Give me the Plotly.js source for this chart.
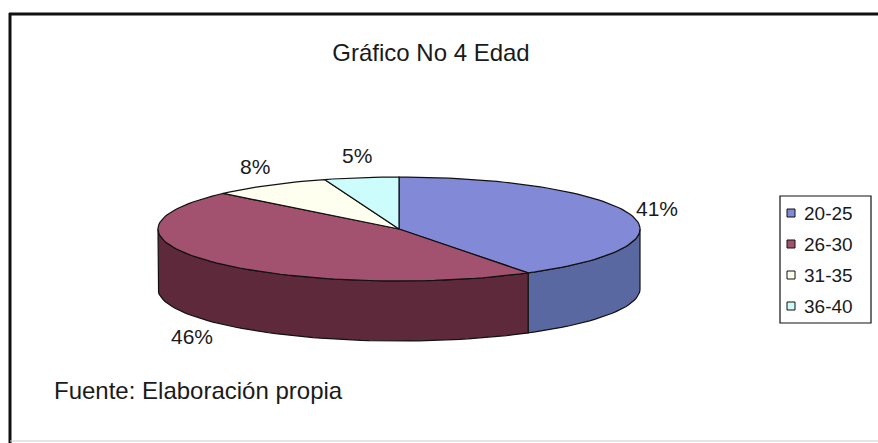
<!DOCTYPE html>
<html>
<head>
<meta charset="utf-8">
<script src="https://cdn.plot.ly/plotly-3.0.1.min.js"></script>
<style>html,body{margin:0;padding:0;background:#fff;}#chart{width:878px;height:443px;}</style>
</head>
<body>
<div id="chart"></div>
<script>
// ---- data ----
const categories = ['20-25', '26-30', '31-35', '36-40'];
const values = [41, 46, 8, 5];
const chartTitle = 'Gráfico No 4 Edad';
const sourceNote = 'Fuente: Elaboración propia';

// ---- style ----
const topColors = ['#8289d6', '#a2526f', '#fffff0', '#ccfcfc'];
const sideColors = ['#5a68a2', '#5e2a3b', '#d8d8c8', '#a8d8d8'];
const FONT = '"Liberation Sans", Arial, sans-serif';

// pie geometry (pixel space via axes range)
const cx = 399, cy = 229, ra = 241, rb = 52, depth = 60;

const total = values.reduce((s, v) => s + v, 0);
const deg = Math.PI / 180;
function px(t) { return cx + ra * Math.cos(t * deg); }
function py(t) { return cy - rb * Math.sin(t * deg); }

function arc(t0, t1, yOff) {
  const n = Math.max(2, Math.ceil(Math.abs(t1 - t0) / 2));
  const xs = [], ys = [];
  for (let i = 0; i <= n; i++) {
    const t = t0 + (t1 - t0) * i / n;
    xs.push(px(t)); ys.push(py(t) + yOff);
  }
  return [xs, ys];
}

const slices = [];
let start = 90;
values.forEach((v, i) => {
  const sweep = v / total * 360;
  const end = start - sweep;
  slices.push({ i, start, end, mid: (start + end) / 2 });
  start = end;
});

const traces = [];
// side faces (front visible part: angles in [-180, 0])
slices.forEach(s => {
  const ranges = [];
  [-360, 0, 360].forEach(shift => {
    const lo = Math.max(s.end + shift, -180), hi = Math.min(s.start + shift, 0);
    if (hi > lo) ranges.push([hi, lo]);
  });
  ranges.forEach(r => {
    const [tx, ty] = arc(r[0], r[1], 0);
    const [bx, by] = arc(r[1], r[0], depth);
    traces.push({
      type: 'scatter', mode: 'lines',
      x: tx.concat(bx, [tx[0]]), y: ty.concat(by, [ty[0]]),
      fill: 'toself', fillcolor: sideColors[s.i],
      line: { color: '#111', width: 1.2 },
      hoverinfo: 'skip', showlegend: false
    });
  });
});
// top faces
slices.forEach(s => {
  const [ax, ay] = arc(s.start, s.end, 0);
  traces.push({
    type: 'scatter', mode: 'lines',
    x: [cx].concat(ax, [cx]), y: [cy].concat(ay, [cy]),
    fill: 'toself', fillcolor: topColors[s.i],
    line: { color: '#111', width: 1.2 },
    hoverinfo: 'skip', showlegend: false
  });
});

const annotations = [];
// percentage labels
slices.forEach(s => {
  const c = Math.cos(s.mid * deg), sn = Math.sin(s.mid * deg);
  const lx = cx + (ra + 28) * c;
  const ly = cy - (rb + 22) * sn + (sn < 0 ? depth : 0);
  annotations.push({
    x: lx, y: ly, xref: 'x', yref: 'y', showarrow: false,
    text: Math.round(values[s.i] / total * 100) + '%',
    font: { family: FONT, size: 21, color: '#1a1a1a' },
    xanchor: 'center', yanchor: 'middle'
  });
});
// source note
annotations.push({
  x: 52, y: 390, xref: 'x', yref: 'y', showarrow: false,
  text: sourceNote, font: { family: FONT, size: 24, color: '#1a1a1a' },
  xanchor: 'left', yanchor: 'middle'
});

const shapes = [
  // frame
  { type: 'line', xref: 'x', yref: 'y', x0: 9, x1: 878, y0: 14, y1: 14, line: { color: '#111', width: 3 } },
  { type: 'line', xref: 'x', yref: 'y', x0: 10, x1: 10, y0: 13, y1: 443, line: { color: '#111', width: 3 } },
  { type: 'line', xref: 'x', yref: 'y', x0: 10, x1: 878, y0: 441, y1: 441, line: { color: '#ccc', width: 1 } },
  // legend box
  { type: 'rect', xref: 'x', yref: 'y', x0: 780, x1: 871, y0: 196, y1: 323, line: { color: '#111', width: 1.2 }, fillcolor: '#fff' }
];
categories.forEach((c, i) => {
  const yc = 213 + i * 31;
  shapes.push({ type: 'rect', xref: 'x', yref: 'y', x0: 787, x1: 795, y0: yc - 4, y1: yc + 4,
    fillcolor: topColors[i], line: { color: '#111', width: 1 } });
  annotations.push({ x: 802, y: yc, xref: 'x', yref: 'y', showarrow: false, text: c,
    font: { family: FONT, size: 19, color: '#1a1a1a' }, xanchor: 'left', yanchor: 'middle' });
});

const layout = {
  width: 878, height: 443,
  margin: { l: 0, r: 0, t: 0, b: 0 },
  paper_bgcolor: '#fff', plot_bgcolor: '#fff',
  showlegend: false,
  title: { text: chartTitle, x: 431 / 878, y: 1 - 53 / 443, xanchor: 'center', yanchor: 'middle',
    xref: 'paper', yref: 'paper', font: { family: FONT, size: 24, color: '#1a1a1a' } },
  xaxis: { range: [0, 878], visible: false, fixedrange: true },
  yaxis: { range: [443, 0], visible: false, fixedrange: true },
  shapes, annotations
};

Plotly.newPlot('chart', traces, layout, { displayModeBar: false, staticPlot: true });
</script>
</body>
</html>
